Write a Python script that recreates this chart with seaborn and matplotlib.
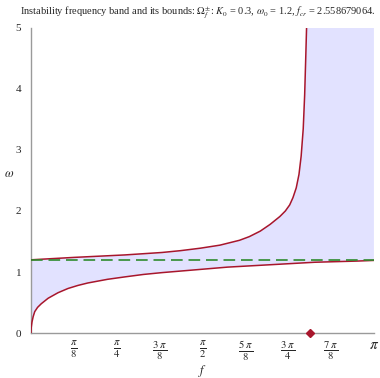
import numpy as np
import pandas as pd
import matplotlib
matplotlib.use("Agg")
import matplotlib.pyplot as plt
import seaborn as sns

# valores
f_cr = 2.558679064
K0 = 0.3
w0 = 1.2

f_low = [0.0, 0.002, 0.009, 0.02, 0.034, 0.06, 0.094, 0.157, 0.247, 0.339, 0.43, 0.52,
         0.7, 0.86, 1.03, 1.2, 1.4, 1.6, 1.8, 2.0, 2.2, 2.4, 2.6, 2.8, 3.0, np.pi]
w_low = [0.0, 0.09, 0.18, 0.27, 0.35, 0.42, 0.48, 0.57, 0.66, 0.73, 0.78, 0.82,
         0.88, 0.92, 0.96, 0.99, 1.02, 1.05, 1.08, 1.10, 1.12, 1.14, 1.16, 1.17, 1.18, 1.19]

f_up = [0.0, 0.4, 0.86, 1.03, 1.2, 1.37, 1.55, 1.73, 1.91, 2.0, 2.1, 2.19, 2.28,
        2.33, 2.37, 2.40, 2.43, 2.455, 2.475, 2.494, 2.507, 2.516, 2.525, 2.535]
w_up = [1.2, 1.24, 1.28, 1.3, 1.32, 1.35, 1.39, 1.44, 1.52, 1.58, 1.67, 1.78, 1.91,
        2.0, 2.1, 2.22, 2.38, 2.6, 2.9, 3.35, 3.9, 4.45, 5.03, 5.6]

xticks = [k * np.pi / 8 for k in range(1, 9)]
xlabels = [r'$\frac{\pi}{8}$', r'$\frac{\pi}{4}$', r'$\frac{3\ \pi}{8}$', r'$\frac{\pi}{2}$',
           r'$\frac{5\ \pi}{8}$', r'$\frac{3\ \pi}{4}$', r'$\frac{7\ \pi}{8}$', r'$\pi$']
yticks = [0, 1, 2, 3, 4, 5]

sns.set_style("white")
plt.rcParams['font.family'] = ['Liberation Serif', 'DejaVu Serif']
plt.rcParams['mathtext.fontset'] = 'stix'

red = '#A8162C'
green = '#2E8B2E'
axcol = '#9A9A9A'

fig = plt.figure(figsize=(3.8, 3.78), dpi=100)
ax = fig.add_axes([0.0816, 0.119, 0.9024, 0.807])

ymax = 5
# banda de inestabilidad
poly_x = list(f_low) + [np.pi, f_cr] + [x for x in f_up[::-1] if x < f_cr]
poly_y = list(w_low) + [ymax, ymax] + [y for x, y in zip(f_up[::-1], w_up[::-1]) if x < f_cr]
ax.fill(poly_x, poly_y, color='#E2E2FF', lw=0, zorder=1)

low = pd.DataFrame({'f': f_low, 'w': w_low})
up = pd.DataFrame({'f': f_up, 'w': w_up})
sns.lineplot(data=low, x='f', y='w', color=red, lw=1.1, ax=ax, sort=False, zorder=3)
sns.lineplot(data=up, x='f', y='w', color=red, lw=1.1, ax=ax, sort=False, zorder=3)
ax.plot([0, np.pi], [w0, w0], color=green, lw=1.2, dashes=(7, 3.5), zorder=4)
ax.plot([f_cr], [0], marker='D', color=red, ms=4, clip_on=False, zorder=5)

ax.set_xlim(0, np.pi)
ax.set_ylim(0, ymax)
ax.set_xticks(xticks)
ax.set_xticklabels(xlabels, fontsize=11)
ax.set_xticks([k * np.pi / 16 for k in range(1, 16, 2)], minor=True)
ax.set_yticks(yticks)
ax.set_yticklabels([str(v) for v in yticks], fontsize=8)
ax.set_yticks([0.5 + k for k in range(5)], minor=True)

for s in ['top', 'right']:
    ax.spines[s].set_visible(False)
for s in ['left', 'bottom']:
    ax.spines[s].set_color(axcol)
    ax.spines[s].set_linewidth(1.0)
ax.tick_params(axis='x', which='major', direction='inout', length=5, color=axcol, pad=2)
ax.tick_params(axis='x', which='minor', direction='inout', length=3, color=axcol)
ax.tick_params(axis='y', which='major', direction='out', length=5, color=axcol, pad=2)
ax.tick_params(axis='y', which='minor', direction='out', length=3, color=axcol)

ax.set_xlabel(r'$f$', fontsize=9, labelpad=0)
ax.set_ylabel(r'$\omega$', fontsize=9, rotation=0, labelpad=8)
ax.yaxis.set_label_coords(-0.065, 0.5)

fig.text(0.053, 0.966,
         r'Instability frequency band and its bounds: $\Omega^{\pm}_{f}$: $K_0$ = 0.3, $\omega_0$ = 1.2, $f_{cr}$ = 2.558679064.',
         fontsize=7.5, va='center', ha='left')

fig.savefig('out.png', dpi=100)
